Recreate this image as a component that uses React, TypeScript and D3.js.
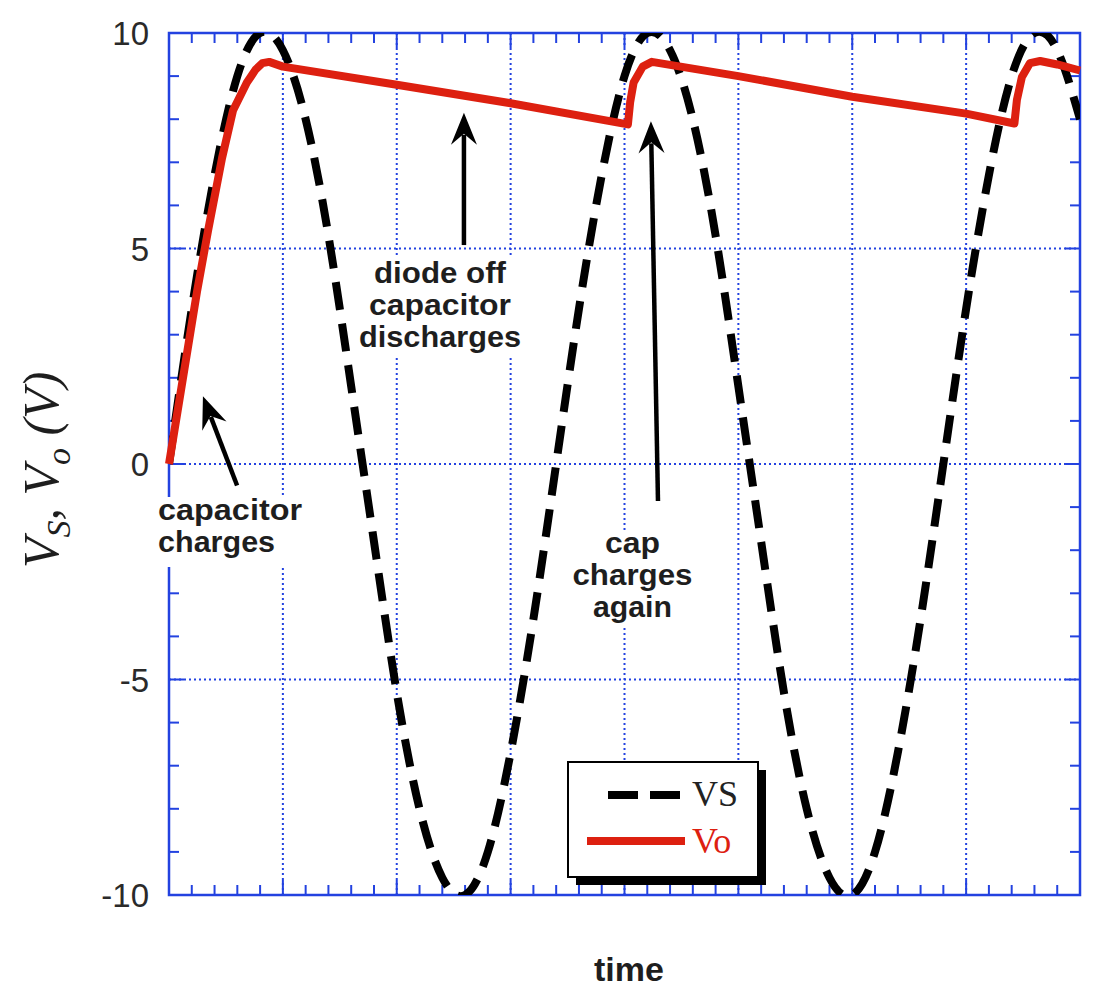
import React from 'react';
import * as d3 from 'd3';

// source voltage, read every 1 ms
const timeMs = [0, 1, 2, 3, 4, 5, 6, 7, 8, 9, 10, 11, 12, 13, 14, 15, 16, 17, 18, 19, 20,
  21, 22, 23, 24, 25, 26, 27, 28, 29, 30, 31, 32, 33, 34, 35, 36, 37, 38, 39, 40];
const vsVolts = [0, 3.6, 6.7, 9.0, 10.0, 9.6, 8.0, 5.3, 1.8, -1.8, -5.3, -8.0, -9.6, -10.0, -9.0, -6.7, -3.6,
  0, 3.6, 6.7, 9.0, 10.0, 9.6, 8.0, 5.3, 1.8, -1.8, -5.3, -8.0, -9.6, -10.0, -9.0, -6.7, -3.6,
  0, 3.6, 6.7, 9.0, 10.0, 9.6, 8.0];

// output (capacitor) voltage
const voTimeMs = [0, 1.23, 1.71, 2.33, 2.81, 3.42, 3.8, 4.1, 4.4, 5, 10, 15, 20.15, 20.25, 20.4, 20.8, 21.2,
  25, 30, 35, 37.12, 37.23, 37.45, 37.8, 38.25, 39, 40];
const voVolts = [0, 4.0, 5.4, 7.1, 8.2, 8.85, 9.15, 9.3, 9.33, 9.22, 8.8, 8.37, 7.88, 8.4, 8.85, 9.22, 9.33,
  9.0, 8.52, 8.13, 7.9, 8.45, 8.98, 9.3, 9.35, 9.27, 9.13];

const yMajor = [-10, -5, 0, 5, 10];
const yLabels = ['-10', '-5', '0', '5', '10'];
const xMajor = [0, 5, 10, 15, 20, 25, 30, 35, 40];

const legendNames = ['VS', 'Vo'];

const blue = '#2342e0';
const red = '#dd2010';
const ink = '#1e1e1e';

const W = 1093;
const H = 987;
const left = 169, right = 1080, top = 33, bottom = 895;

const x = d3.scaleLinear().domain([0, 40]).range([left, right]);
const y = d3.scaleLinear().domain([-10, 10]).range([bottom, top]);

const arrowHead = (x1, y1, x2, y2) => {
  const a = Math.atan2(y2 - y1, x2 - x1);
  const len = 32, half = 13, notch = 21;
  const px = (d, s) => [x2 - d * Math.cos(a) - s * Math.sin(a), y2 - d * Math.sin(a) + s * Math.cos(a)];
  const p1 = px(len, half), p2 = px(notch, 0), p3 = px(len, -half);
  return `M${x2},${y2}L${p1[0]},${p1[1]}L${p2[0]},${p2[1]}L${p3[0]},${p3[1]}Z`;
};

const Arrow = ({ from, to }) => {
  const x1 = x(from[0]), y1 = y(from[1]), x2 = x(to[0]), y2 = y(to[1]);
  const a = Math.atan2(y2 - y1, x2 - x1);
  return (
    <g>
      <line x1={x1} y1={y1} x2={x2 - 22 * Math.cos(a)} y2={y2 - 22 * Math.sin(a)} stroke="#000" strokeWidth={4.5} />
      <path d={arrowHead(x1, y1, x2, y2)} fill="#000" />
    </g>
  );
};

const Note = ({ lines, at, anchor, widths }) => (
  <text fontFamily="'Liberation Sans', Arial, sans-serif" fontWeight="bold" fontSize={29} fill={ink} textAnchor={anchor}>
    {lines.map((l, i) => (
      <tspan key={i} x={x(at[0])} y={y(at[1]) + i * 32} textLength={widths[i]} lengthAdjust="spacingAndGlyphs">{l}</tspan>
    ))}
  </text>
);

export default function App() {
  const vsLine = d3.line().x((d, i) => x(timeMs[i])).y((d) => y(d)).curve(d3.curveNatural);
  const voLine = d3.line().x((d, i) => x(voTimeMs[i])).y((d) => y(d));

  const xMinor = d3.range(0, 41).filter((t) => t % 5 !== 0);
  const yMinor = d3.range(-10, 11).filter((v) => v % 5 !== 0);

  return (
    <svg width={W} height={H} style={{ display: 'block' }}>
      <style>{'body{margin:0}'}</style>
      <defs>
        <clipPath id="plot">
          <rect x={left} y={top} width={right - left} height={bottom - top} />
        </clipPath>
      </defs>
      <rect width={W} height={H} fill="#fff" />

      {/* grid */}
      <g stroke={blue} strokeWidth={2} strokeDasharray="2 3">
        {xMajor.slice(1, -1).map((t) => (
          <line key={t} x1={x(t)} x2={x(t)} y1={top} y2={bottom} />
        ))}
        {yMajor.slice(1, -1).map((v) => (
          <line key={v} x1={left} x2={right} y1={y(v)} y2={y(v)} />
        ))}
      </g>

      {/* ticks */}
      <g stroke={blue} strokeWidth={2}>
        {xMajor.map((t) => (
          <g key={'M' + t}>
            <line x1={x(t)} x2={x(t)} y1={top} y2={top + 15} />
            <line x1={x(t)} x2={x(t)} y1={bottom} y2={bottom - 15} />
          </g>
        ))}
        {xMinor.map((t) => (
          <g key={'m' + t}>
            <line x1={x(t)} x2={x(t)} y1={top} y2={top + 10} />
            <line x1={x(t)} x2={x(t)} y1={bottom} y2={bottom - 10} />
          </g>
        ))}
        {yMajor.map((v) => (
          <g key={'M' + v}>
            <line x1={left} x2={left + 15} y1={y(v)} y2={y(v)} />
            <line x1={right} x2={right - 15} y1={y(v)} y2={y(v)} />
          </g>
        ))}
        {yMinor.map((v) => (
          <g key={'m' + v}>
            <line x1={left} x2={left + 10} y1={y(v)} y2={y(v)} />
            <line x1={right} x2={right - 10} y1={y(v)} y2={y(v)} />
          </g>
        ))}
      </g>
      <rect x={left} y={top} width={right - left} height={bottom - top} fill="none" stroke={blue} strokeWidth={2.5} />

      {/* white backing behind notes */}
      <rect x={x(-0.6)} y={497} width={150} height={70} fill="#fff" />
      <rect x={x(8.4)} y={257} width={168} height={100} fill="#fff" />
      <rect x={x(18.1)} y={530} width={126} height={98} fill="#fff" />

      {/* series */}
      <g clipPath="url(#plot)">
        <path d={vsLine(vsVolts)} fill="none" stroke="#000" strokeWidth={8} strokeDasharray="28 14" />
      </g>
      <path d={voLine(voVolts)} fill="none" stroke={red} strokeWidth={8} strokeLinejoin="round" />

      {/* y tick labels */}
      <g fontFamily="'Liberation Sans', Arial, sans-serif" fontSize={33} fill="#2a2a2a" textAnchor="end">
        {yMajor.map((v, i) => (
          <text key={v} x={left - 20} y={y(v) + 12}>{yLabels[i]}</text>
        ))}
      </g>

      {/* axis titles */}
      <text x={629} y={981} textAnchor="middle" fontFamily="'Liberation Sans', Arial, sans-serif" fontWeight="bold" fontSize={34} fill={ink}>time</text>
      <text transform="translate(58,568) rotate(-90)" fontFamily="'Liberation Serif', 'Times New Roman', serif" fontStyle="italic" fontSize={50} fill={ink}>
        <tspan>V</tspan>
        <tspan dy={12} fontSize={34}>S</tspan>
        <tspan dy={-12}>, V</tspan>
        <tspan dy={12} fontSize={34}>o</tspan>
        <tspan dy={-12}> (V)</tspan>
      </text>

      {/* annotations */}
      <Arrow from={[2.99, -0.5]} to={[1.49, 1.57]} />
      <Arrow from={[12.95, 5.08]} to={[12.95, 8.15]} />
      <Arrow from={[21.47, -0.86]} to={[21.16, 7.95]} />
      <Note lines={['capacitor', 'charges']} at={[-0.48, -1.3]} anchor="start" widths={[144, 117]} />
      <Note lines={['diode off', 'capacitor', 'discharges']} at={[11.9, 4.2]} anchor="middle" widths={[132, 142, 162]} />
      <Note lines={['cap', 'charges', 'again']} at={[20.35, -2.07]} anchor="middle" widths={[55, 120, 79]} />

      {/* legend */}
      <rect x={576} y={770} width={190} height={115} fill="#000" />
      <rect x={568} y={762} width={190} height={115} fill="#fff" stroke="#000" strokeWidth={2} />
      <line x1={608} x2={680} y1={795} y2={795} stroke="#000" strokeWidth={8} strokeDasharray="30 12" />
      <line x1={587} x2={685} y1={841} y2={841} stroke={red} strokeWidth={8} />
      <g fontFamily="'Liberation Serif', 'Times New Roman', serif" fontSize={36}>
        <text x={692} y={806} fill="#222">{legendNames[0]}</text>
        <text x={692} y={853} fill={red}>{legendNames[1]}</text>
      </g>
    </svg>
  );
}
